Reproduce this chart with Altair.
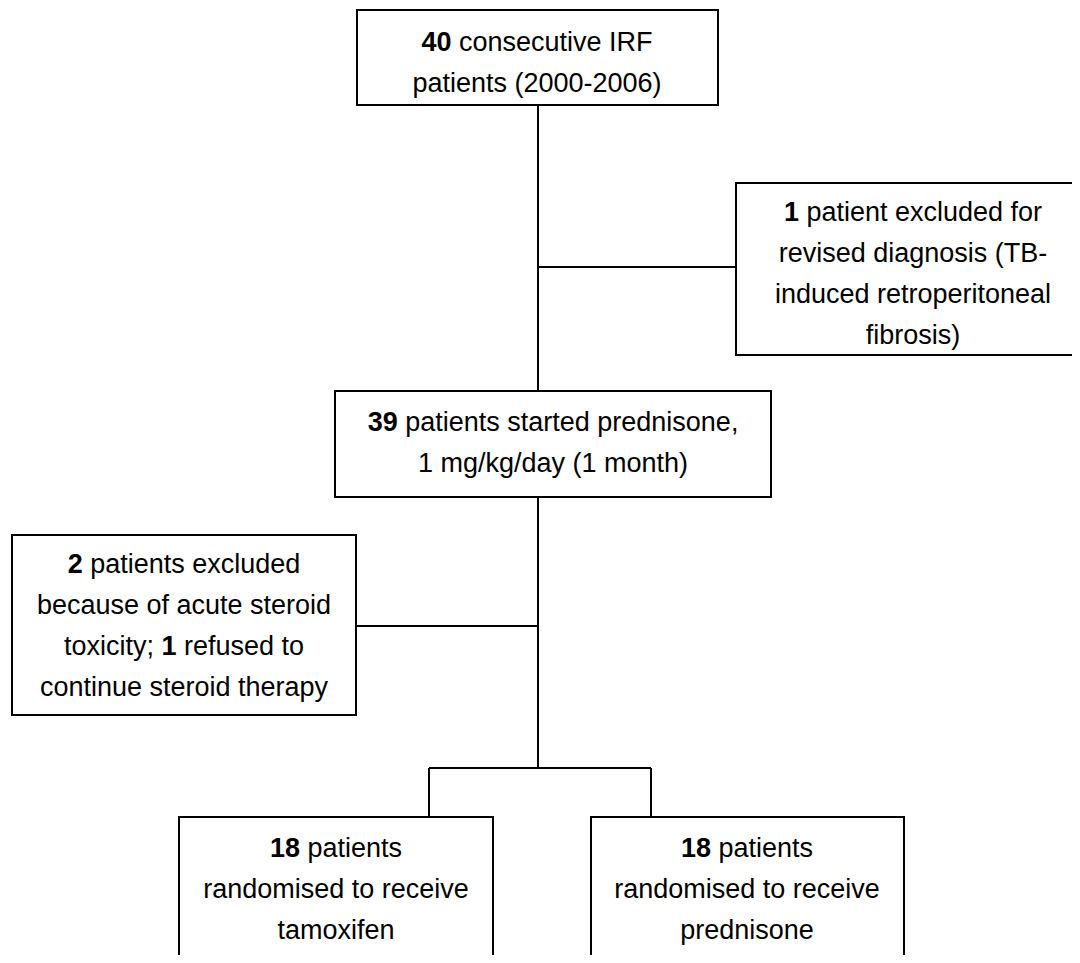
import altair as alt
import pandas as pd

# ---------------- text content (one list per box) ----------------
top_lines = [[("40", True), ("consecutive IRF", False)],
             [("patients (2000-2006)", False)]]
right_lines = [[("1", True), ("patient excluded for", False)],
               [("revised diagnosis (TB-", False)],
               [("induced retroperitoneal", False)],
               [("fibrosis)", False)]]
mid_lines = [[("39", True), ("patients started prednisone,", False)],
             [("1 mg/kg/day (1 month)", False)]]
left_lines = [[("2", True), ("patients excluded", False)],
              [("because of acute steroid", False)],
              [("toxicity;", False), ("1", True), ("refused to", False)],
              [("continue steroid therapy", False)]]
tam_lines = [[("18", True), ("patients", False)],
             [("randomised to receive", False)],
             [("tamoxifen", False)]]
pred_lines = [[("18", True), ("patients", False)],
              [("randomised to receive", False)],
              [("prednisone", False)]]

# ---------------- layout (pixel coordinates of the reference) ----------------
box_names = ["top", "right", "mid", "left", "tam", "pred"]
box_x0 = [357, 736, 335, 12, 179, 591]
box_x1 = [718, 1090, 771, 356, 493, 904]
box_y0 = [10, 183, 391, 535, 817, 817]
box_y1 = [105, 355, 497, 715, 990, 990]
text_cx = [537, 913, 553, 184, 336, 747]
text_y0 = [43, 213, 423, 565, 849, 849]
box_lines = [top_lines, right_lines, mid_lines, left_lines, tam_lines, pred_lines]

conn_x = [538, 538, 538, 356, 429, 429, 651]
conn_x2 = [538, 736, 538, 538, 651, 429, 651]
conn_y = [105, 267, 497, 626, 768, 768, 768]
conn_y2 = [391, 267, 768, 626, 768, 817, 817]

FONT = "Liberation Sans"
FS = 27
GAP = 41

# Arial / Liberation Sans advance widths (1/1000 em)
W = {" ": 278, "(": 333, ")": 333, ",": 278, "-": 333, "/": 278, ";": 278,
     "B": 667, "F": 611, "I": 278, "R": 722, "T": 611,
     "a": 556, "b": 556, "c": 500, "d": 556, "e": 556, "f": 278, "g": 556,
     "h": 556, "i": 222, "j": 222, "k": 500, "l": 222, "m": 833, "n": 556,
     "o": 556, "p": 556, "q": 556, "r": 333, "s": 500, "t": 278, "u": 556,
     "v": 500, "w": 722, "x": 500, "y": 500, "z": 500}
for d in "0123456789":
    W[d] = 556


def tw(s):
    return sum(W.get(ch, 556) for ch in s) * FS / 1000.0


rows = []
for cx, y0, lines in zip(text_cx, text_y0, box_lines):
    for i, segs in enumerate(lines):
        total = sum(tw(t) for t, _ in segs) + tw(" ") * (len(segs) - 1)
        x = cx - total / 2.0
        for t, b in segs:
            rows.append({"x": x, "y": y0 + i * GAP, "text": t,
                         "weight": "bold" if b else "normal"})
            x += tw(t) + tw(" ")
text_df = pd.DataFrame(rows)

box_df = pd.DataFrame({"name": box_names, "x0": box_x0, "x1": box_x1,
                       "y0": box_y0, "y1": box_y1})
conn_df = pd.DataFrame({"x": conn_x, "x2": conn_x2, "y": conn_y, "y2": conn_y2})

WIDTH, HEIGHT = 1064, 947
xs = alt.Scale(domain=[8, 8 + WIDTH], nice=False, zero=False)
ys = alt.Scale(domain=[8, 8 + HEIGHT], nice=False, zero=False, reverse=True)

boxes = alt.Chart(box_df).mark_rect(
    fill="white", stroke="black", strokeWidth=2, clip=True
).encode(
    x=alt.X("x0:Q", scale=xs, axis=None), x2="x1:Q",
    y=alt.Y("y0:Q", scale=ys, axis=None), y2="y1:Q",
)

conns = alt.Chart(conn_df).mark_rule(color="black", strokeWidth=2).encode(
    x=alt.X("x:Q", scale=xs, axis=None), x2="x2:Q",
    y=alt.Y("y:Q", scale=ys, axis=None), y2="y2:Q",
)

txt_regular = alt.Chart(text_df).transform_filter(
    alt.datum.weight == "normal"
).mark_text(
    align="left", baseline="middle", font=FONT, fontSize=FS, color="black"
).encode(
    x=alt.X("x:Q", scale=xs, axis=None),
    y=alt.Y("y:Q", scale=ys, axis=None),
    text="text:N",
)

txt_bold = alt.Chart(text_df).transform_filter(
    alt.datum.weight == "bold"
).mark_text(
    align="left", baseline="middle", font=FONT, fontSize=FS, fontWeight="bold",
    color="black"
).encode(
    x=alt.X("x:Q", scale=xs, axis=None),
    y=alt.Y("y:Q", scale=ys, axis=None),
    text="text:N",
)

chart = alt.layer(conns, boxes, txt_regular, txt_bold).properties(
    width=WIDTH, height=HEIGHT, padding=0, autosize="none", background="white"
).configure_view(strokeWidth=0)

chart.save("out.html", embed_options={"renderer": "svg", "actions": False})
